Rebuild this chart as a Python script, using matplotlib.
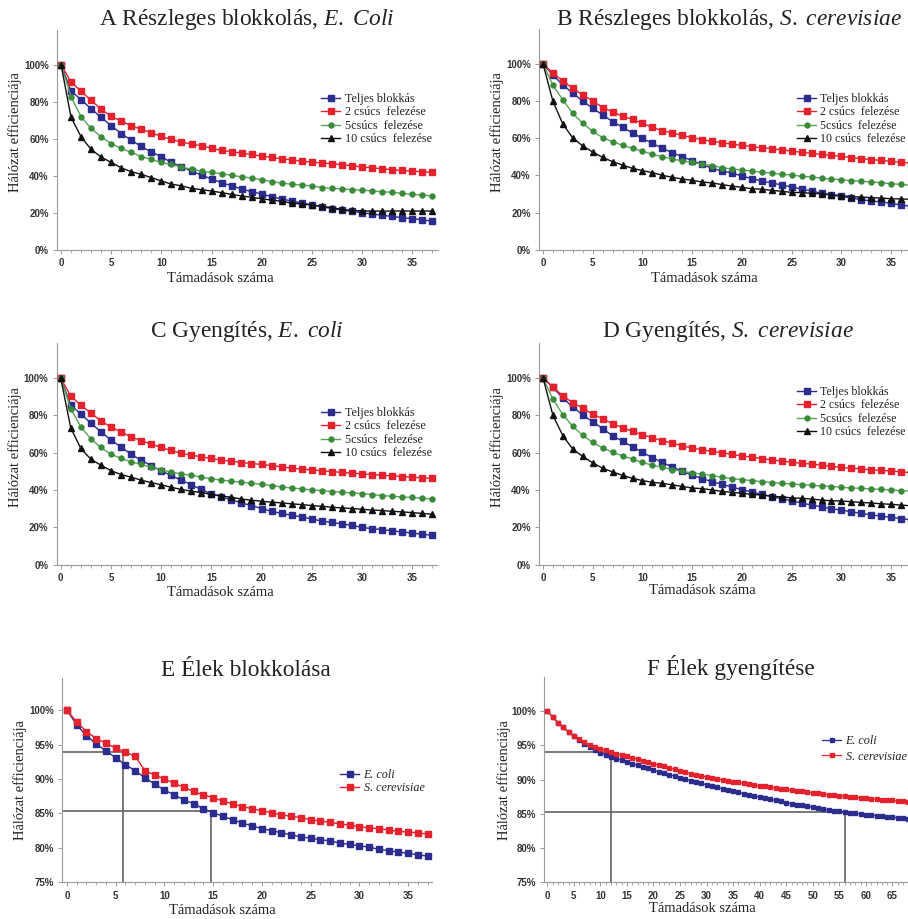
import matplotlib
matplotlib.use('Agg')
import matplotlib.pyplot as plt
import numpy as np
from matplotlib.ticker import MultipleLocator, FixedLocator, FuncFormatter
from matplotlib.font_manager import FontProperties

plt.rcParams['mathtext.fontset'] = 'custom'
plt.rcParams['mathtext.rm'] = 'Liberation Serif'
plt.rcParams['mathtext.it'] = 'Liberation Serif:italic'

# ---------------- data ----------------
series_labels = ["Teljes blokkás", "2 csúcs  felezése", "5csúcs  felezése", "10 csúcs  felezése"]
edge_labels = ["E. coli", "S. cerevisiae"]

a_teljes = [100, 85.6, 81.1, 76.1, 71.5, 67.0, 62.8, 59.2, 55.8, 52.8, 50.3, 47.2, 44.9, 42.5, 40.4, 38.2, 36.3, 34.6, 32.9, 31.4, 30.2, 28.7, 27.5, 26.4, 25.3, 24.4, 23.3, 22.3, 21.5, 20.8, 20.1, 19.4, 18.7, 18.1, 17.4, 16.9, 16.2, 15.6]
a_2csucs = [100, 90.5, 85.6, 80.6, 75.9, 72.0, 69.5, 67.0, 65.0, 63.2, 61.2, 59.6, 58.2, 57.1, 56.2, 54.8, 53.7, 53.0, 52.2, 51.5, 50.6, 49.9, 49.2, 48.5, 47.9, 47.4, 46.9, 46.5, 46.0, 45.4, 44.7, 44.3, 43.8, 43.3, 42.9, 42.5, 42.2, 41.8]
a_5csucs = [100, 82.6, 71.8, 65.5, 61.0, 57.3, 54.8, 52.6, 50.4, 48.8, 47.2, 46.1, 44.7, 43.6, 42.5, 41.8, 41.1, 40.2, 39.5, 38.8, 37.9, 36.8, 36.1, 35.4, 35.0, 34.6, 33.6, 33.2, 32.9, 32.5, 32.3, 31.8, 31.4, 31.1, 30.5, 30.0, 29.6, 29.1]
a_10csucs = [100, 71.5, 61.0, 54.2, 50.1, 47.2, 44.3, 42.2, 40.8, 39.0, 37.2, 35.5, 34.6, 33.2, 32.5, 31.8, 30.9, 30.0, 29.1, 28.4, 27.6, 26.9, 26.2, 25.3, 24.8, 24.2, 23.5, 22.8, 21.9, 21.4, 21.0, 21.0, 21.0, 21.0, 21.0, 21.0, 21.0, 21.0]

b_teljes = [100, 93.9, 88.6, 84.1, 80.0, 76.0, 72.5, 68.9, 65.8, 62.8, 59.9, 57.2, 54.6, 52.2, 50.1, 47.9, 46.0, 43.8, 42.4, 41.3, 39.7, 38.3, 37.0, 36.0, 34.9, 33.8, 32.7, 31.7, 30.4, 29.3, 28.8, 27.9, 27.0, 26.3, 25.8, 25.0, 24.2, 23.4]
b_2csucs = [100, 94.8, 90.7, 86.8, 83.2, 80.1, 76.4, 74.2, 71.7, 70.1, 68.0, 65.8, 64.0, 62.9, 61.5, 60.3, 59.2, 58.3, 57.6, 56.7, 56.2, 55.5, 54.9, 54.4, 53.7, 53.1, 52.4, 51.9, 51.3, 50.8, 50.3, 49.6, 49.0, 48.5, 48.1, 47.6, 47.0, 46.7]
b_5csucs = [100, 88.4, 80.5, 73.3, 68.0, 63.7, 60.3, 58.1, 56.2, 54.6, 53.1, 51.3, 50.1, 48.8, 47.8, 47.0, 46.0, 45.3, 44.2, 43.5, 42.9, 42.4, 41.7, 41.3, 40.6, 40.3, 39.5, 39.2, 38.5, 38.1, 37.7, 37.2, 36.9, 36.5, 36.1, 35.6, 35.2, 34.7]
b_10csucs = [100, 79.8, 67.6, 60.1, 55.8, 52.6, 49.7, 47.4, 45.6, 43.8, 42.6, 41.5, 40.1, 39.0, 38.1, 37.4, 36.5, 36.0, 35.1, 34.3, 33.6, 32.9, 32.6, 32.0, 31.5, 30.9, 30.8, 30.4, 30.2, 29.7, 29.2, 28.6, 28.4, 28.1, 27.9, 27.5, 27.4, 27.2]

c_teljes = [100, 85.5, 80.7, 75.8, 71.2, 66.9, 63.0, 59.2, 56.0, 53.1, 50.3, 47.8, 45.3, 42.8, 40.3, 37.9, 36.5, 34.7, 33.1, 31.7, 30.1, 28.6, 27.5, 26.5, 25.6, 24.5, 23.4, 22.7, 21.8, 21.1, 20.0, 19.3, 18.8, 18.2, 17.5, 17.0, 16.3, 15.7]
c_2csucs = [100, 90.3, 85.5, 81.2, 77.1, 73.7, 71.2, 68.5, 66.5, 64.6, 62.8, 61.2, 59.7, 58.7, 57.8, 56.9, 56.0, 55.5, 54.7, 54.2, 53.7, 53.1, 52.4, 51.7, 51.2, 50.8, 50.3, 49.9, 49.4, 49.0, 48.7, 48.3, 47.9, 47.6, 47.2, 46.9, 46.5, 46.2]
c_5csucs = [100, 83.5, 73.9, 67.4, 62.8, 59.2, 56.9, 55.1, 53.7, 52.2, 50.8, 49.6, 48.7, 47.9, 47.0, 46.0, 45.3, 44.7, 44.2, 43.6, 43.1, 42.4, 41.7, 41.1, 40.6, 40.1, 39.7, 39.2, 38.8, 38.5, 38.1, 37.6, 37.0, 36.7, 36.3, 36.0, 35.6, 35.2]
c_10csucs = [100, 73.3, 62.3, 56.5, 53.3, 50.4, 48.3, 46.9, 45.3, 44.0, 42.8, 41.5, 40.3, 39.4, 38.6, 37.7, 36.9, 36.1, 35.2, 34.5, 34.0, 33.5, 33.1, 32.6, 32.2, 31.7, 31.3, 30.8, 30.4, 30.1, 29.7, 29.3, 29.0, 28.6, 28.3, 27.9, 27.5, 27.0]

d_teljes = [100, 94.8, 89.1, 84.4, 80.1, 76.5, 72.8, 69.0, 66.0, 63.1, 60.2, 57.2, 54.7, 52.3, 50.0, 47.8, 46.1, 44.4, 43.0, 41.6, 40.1, 38.9, 37.6, 36.4, 35.3, 34.2, 33.0, 31.9, 31.0, 29.9, 29.2, 28.3, 27.4, 26.7, 26.0, 25.3, 24.7, 24.0]
d_2csucs = [100, 95.0, 90.3, 86.6, 83.7, 80.5, 78.1, 75.4, 73.3, 71.3, 69.5, 67.9, 66.3, 65.1, 63.6, 62.4, 61.5, 60.6, 59.9, 59.0, 58.2, 57.5, 56.8, 56.1, 55.4, 54.8, 54.3, 53.8, 53.2, 52.7, 52.0, 51.6, 51.3, 50.7, 50.4, 50.2, 49.6, 49.3]
d_5csucs = [100, 88.5, 80.3, 74.0, 69.2, 65.4, 62.4, 60.2, 58.2, 56.5, 54.7, 53.2, 52.0, 50.9, 50.0, 49.1, 48.4, 47.7, 46.8, 46.1, 45.5, 45.0, 44.4, 43.9, 43.5, 43.2, 42.8, 42.5, 42.1, 41.8, 41.4, 41.0, 40.9, 40.5, 40.3, 40.0, 39.6, 39.4]
d_10csucs = [100, 79.9, 69.0, 61.8, 57.9, 54.5, 51.6, 49.6, 47.8, 46.2, 45.0, 44.1, 43.5, 42.7, 41.9, 41.0, 40.7, 40.0, 39.2, 38.7, 38.2, 37.6, 37.3, 36.7, 36.2, 35.8, 35.5, 35.1, 34.6, 34.2, 34.1, 33.7, 33.3, 33.0, 32.6, 32.3, 31.9, 31.5]

e_ecoli = [100, 97.9, 96.3, 95.1, 94.1, 93.1, 92.1, 91.2, 90.2, 89.3, 88.4, 87.7, 87.0, 86.4, 85.7, 85.1, 84.6, 84.1, 83.6, 83.2, 82.8, 82.5, 82.2, 81.9, 81.6, 81.4, 81.2, 81.0, 80.7, 80.5, 80.3, 80.1, 79.8, 79.6, 79.4, 79.2, 79.0, 78.8]
e_scer = [100, 98.3, 96.9, 95.9, 95.2, 94.5, 93.9, 93.3, 91.2, 90.6, 90.0, 89.4, 88.8, 88.2, 87.7, 87.3, 86.8, 86.4, 86.0, 85.7, 85.4, 85.1, 84.8, 84.6, 84.4, 84.1, 83.9, 83.7, 83.5, 83.3, 83.1, 82.9, 82.8, 82.6, 82.4, 82.3, 82.2, 82.0]
e_ref_x = [5.7, 14.8]
e_ref_y = [94.0, 85.3]

f_ecoli = [100, 99.1, 98.3, 97.6, 96.9, 96.3, 95.75, 95.25, 94.75, 94.3, 93.9, 93.6, 93.3, 93.05, 92.8, 92.55, 92.3, 92.07, 91.84, 91.61, 91.38, 91.15, 90.93, 90.71, 90.49, 90.27, 90.06, 89.85, 89.64, 89.44, 89.24, 89.04, 88.85, 88.66, 88.47, 88.29, 88.11, 87.93, 87.76, 87.59, 87.42, 87.26, 87.1, 86.94, 86.79, 86.64, 86.49, 86.35, 86.21, 86.07, 85.94, 85.81, 85.69, 85.57, 85.45, 85.34, 85.24, 85.14, 85.05, 84.96, 84.88, 84.8, 84.72, 84.64, 84.56, 84.49, 84.42, 84.35, 84.28, 84.21, 84.14]
f_scer = [100, 99.1, 98.3, 97.6, 96.95, 96.4, 95.9, 95.45, 95.05, 94.75, 94.5, 94.25, 94.0, 93.79, 93.58, 93.37, 93.16, 92.95, 92.75, 92.53, 92.31, 92.1, 91.9, 91.68, 91.47, 91.26, 91.06, 90.87, 90.69, 90.52, 90.37, 90.22, 90.08, 89.95, 89.82, 89.7, 89.58, 89.46, 89.34, 89.22, 89.1, 88.99, 88.88, 88.77, 88.66, 88.55, 88.45, 88.35, 88.25, 88.15, 88.05, 87.96, 87.87, 87.78, 87.69, 87.6, 87.53, 87.46, 87.39, 87.32, 87.25, 87.19, 87.13, 87.07, 87.01, 86.95, 86.89, 86.83, 86.77, 86.71, 86.65]
f_ref_x = [12.0, 56.0]
f_ref_y = [94.0, 85.3]
f_xticks = [0, 5, 10, 15, 20, 25, 30, 35, 40, 45, 50, 55, 60, 65]

# ---------------- styling ----------------
W, H = 908, 919
fig = plt.figure(figsize=(W / 100, H / 100), dpi=100)
fig.patch.set_facecolor('white')

SERIF = 'Liberation Serif'
SANS = 'Liberation Sans'
BLUE, RED, GREEN, BLACK = '#2c2c8e', '#e3222d', '#3a8a3a', '#111111'
GREEN_LINE = '#5aa35a'

styles4 = [
    dict(color=BLUE, marker='s', ms=4.3, mfc=BLUE, mec=BLUE),
    dict(color=RED, marker='s', ms=4.3, mfc=RED, mec=RED),
    dict(color=GREEN_LINE, marker='o', ms=3.6, mfc=GREEN, mec=GREEN),
    dict(color=BLACK, marker='^', ms=4.3, mfc=BLACK, mec=BLACK),
]


def px_axes(left, right, top, bottom):
    return fig.add_axes([left / W, 1 - bottom / H, (right - left) / W, (bottom - top) / H])


def style_axes(ax, xlim, ylim, yticks, xmajor):
    ax.set_xlim(*xlim)
    ax.set_ylim(*ylim)
    for s in ['top', 'right']:
        ax.spines[s].set_visible(False)
    for s in ['left', 'bottom']:
        ax.spines[s].set_color('#9a9a9a')
        ax.spines[s].set_linewidth(0.8)
    ax.yaxis.set_major_locator(FixedLocator(yticks))
    ax.yaxis.set_major_formatter(FuncFormatter(lambda v, p: f"{v:.0f}%"))
    if isinstance(xmajor, list):
        ax.xaxis.set_major_locator(FixedLocator(xmajor))
    else:
        ax.xaxis.set_major_locator(MultipleLocator(xmajor))
    ax.xaxis.set_minor_locator(MultipleLocator(1))
    ax.tick_params(axis='both', which='major', labelsize=7, colors='#9a9a9a',
                   labelcolor='#333333', length=3, width=0.7, pad=3)
    ax.tick_params(axis='x', which='minor', length=2.5, width=0.6, colors='#9a9a9a')
    for lab in ax.get_xticklabels() + ax.get_yticklabels():
        lab.set_fontfamily(SANS)
        lab.set_fontweight('bold')
    ax.set_facecolor('none')


def add_text(x, y, s, size, rot=0, **kw):
    fig.text(x / W, 1 - y / H, s, fontsize=size, family=SERIF, rotation=rot,
             ha='center', va='center', color='#222222', **kw)


def legend(ax, handles, labels, x, y, italic=False, spacing=0.12, size=8.7):
    prop = FontProperties(family=SERIF, size=size, style='italic' if italic else 'normal')
    leg = ax.legend(handles, labels, loc='upper left', bbox_to_anchor=(x / W, 1 - y / H),
                    bbox_transform=fig.transFigure, frameon=False, borderpad=0,
                    borderaxespad=0, handlelength=1.6, handletextpad=0.35,
                    labelspacing=spacing, prop=prop)
    for t in leg.get_texts():
        t.set_color('#222222')


panels4 = [
    # data, axes px (left, right, top, bottom), title, title pos, legend pos, ylabel pos, xlabel pos
    ([a_teljes, a_2csucs, a_5csucs, a_10csucs], (57, 437.5, 30, 250),
     r"A Részleges blokkolás, $\mathit{E.\ Coli}$", (247, 20), (321, 93), (15, 132), (220, 278)),
    ([b_teljes, b_2csucs, b_5csucs, b_10csucs], (539, 916, 29, 250),
     r"B Részleges blokkolás, $\mathit{S.\ cerevisiae}$", (729, 19), (797, 93), (497, 132), (704, 278)),
    ([c_teljes, c_2csucs, c_5csucs, c_10csucs], (56.7, 437.2, 343.3, 564.7),
     r"C Gyengítés, $\mathit{E.\ coli}$", (247, 332), (321, 407), (15, 447), (220, 593)),
    ([d_teljes, d_2csucs, d_5csucs, d_10csucs], (539, 916, 343, 564.7),
     r"D Gyengítés, $\mathit{S.\ cerevisiae}$", (728, 332), (797, 386), (497, 447), (702, 591)),
]

for data, box, title, tpos, lpos, ypos, xpos in panels4:
    ax = px_axes(box[0], box[1], box[2], box[3])
    handles = []
    for vals, st in zip(data, styles4):
        x = np.arange(len(vals))
        h, = ax.plot(x, vals, lw=1.0, clip_on=False, zorder=3, **st)
        handles.append(h)
    style_axes(ax, (-0.4, 37.5), (0, 118.6), [0, 20, 40, 60, 80, 100], 5)
    legend(ax, handles, series_labels, *lpos, size=8.6 if lpos[0] > 700 else 8.7)
    add_text(*tpos, title, 16.8)
    add_text(*ypos, "Hálózat efficienciája", 10.5, rot=90)
    add_text(*xpos, "Támadások száma", 10.5)

# ---------------- panel E ----------------
axE = px_axes(62.3, 431.6, 678.3, 882.3)
hE1, = axE.plot(np.arange(len(e_ecoli)), e_ecoli, color=BLUE, marker='s', ms=4.6, lw=1.0, zorder=3)
hE2, = axE.plot(np.arange(len(e_scer)), e_scer, color=RED, marker='s', ms=4.6, lw=1.0, zorder=3)
style_axes(axE, (-0.48, 37.4), (75, 104.65), [75, 80, 85, 90, 95, 100], 5)
x0 = axE.get_xlim()[0]
for rx, ry in zip(e_ref_x, e_ref_y):
    axE.hlines(ry, x0, rx, color='#6e6e6e', lw=1.3, zorder=2)
    axE.vlines(rx, 75, ry, color='#6e6e6e', lw=1.3, zorder=2)
legend(axE, [hE1, hE2], edge_labels, 340, 769, italic=True, spacing=0.1)
add_text(246, 670, "E Élek blokkolása", 16.8)
add_text(20, 780, "Hálózat efficienciája", 10.5, rot=90)
add_text(222, 911, "Támadások száma", 10.5)

# ---------------- panel F ----------------
axF = px_axes(544, 924.3, 676.7, 882.3)
hF1, = axF.plot(np.arange(len(f_ecoli)), f_ecoli, color=BLUE, marker='s', ms=2.6, lw=0.9, zorder=3)
hF2, = axF.plot(np.arange(len(f_scer)), f_scer, color=RED, marker='s', ms=2.6, lw=0.9, zorder=3)
style_axes(axF, (-0.62, 71), (75, 105.0), [75, 80, 85, 90, 95, 100], f_xticks)
x0 = axF.get_xlim()[0]
for rx, ry in zip(f_ref_x, f_ref_y):
    axF.hlines(ry, x0, rx, color='#6e6e6e', lw=1.3, zorder=2)
    axF.vlines(rx, 75, ry, color='#6e6e6e', lw=1.3, zorder=2)
legend(axF, [hF1, hF2], edge_labels, 822, 735, italic=True, spacing=0.3)
add_text(731, 667, "F Élek gyengítése", 16.8)
add_text(504, 780, "Hálózat efficienciája", 10.5, rot=90)
add_text(702, 908, "Támadások száma", 10.5)

fig.savefig('out.png', dpi=100, facecolor='white')
